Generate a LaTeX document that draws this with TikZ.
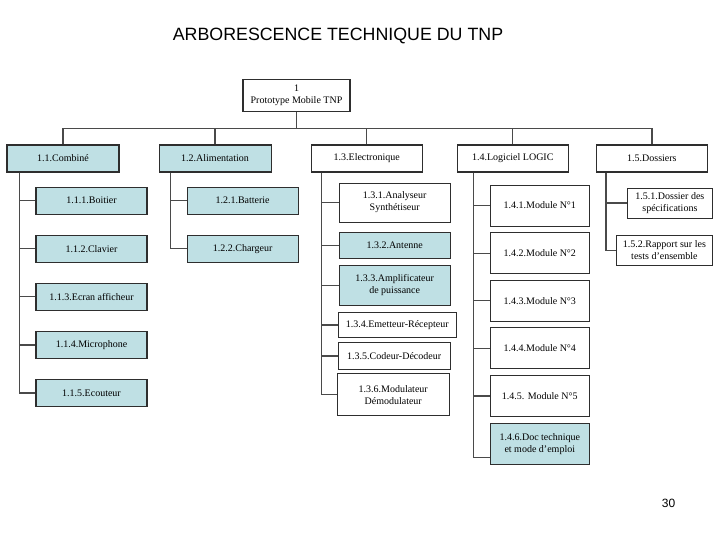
\documentclass[tikz,border=0pt]{standalone}
\usepackage{fontspec}
\setmainfont{Liberation Serif}
\newfontfamily\titlefont{Liberation Sans}
\usepackage{xcolor}
\usepackage{tikz}
\usetikzlibrary{positioning}
\definecolor{tnpblue}{HTML}{BFE0E4}
\definecolor{tnpedge}{HTML}{2E2E2E}
\definecolor{tnpline}{HTML}{4A4A4A}

\begin{document}
\begin{tikzpicture}[
    x=1pt, y=1pt,
    box/.style={rectangle, draw=tnpedge, line width=1.1pt, fill=#1, minimum width=111pt, minimum height=27pt, inner sep=2pt, align=center, font=\fontsize{10}{12}\selectfont},
    box/.default=white,
    link/.style={draw=tnpline, line width=1.3pt},
    heading/.style={font=\titlefont\fontsize{#1}{#1}\selectfont},
]
\useasboundingbox (0,0) rectangle (720,-540);

% --- Title and page number ---
\node[heading=17.8] (title) at (338,-36) {ARBORESCENCE TECHNIQUE DU TNP};
\node[heading=12] (page) at (668.5,-503) {30};

% --- Root ---
\node[box, minimum width=107pt, minimum height=32pt] (root) at (296.5,-95.5) {1\\Prototype Mobile TNP};

% --- First level ---
\node[box=tnpblue, minimum width=112pt] (c11) at (63,-158.5) {1.1.Combiné};
\node[box=tnpblue, minimum width=112pt, right=39pt of c11] (c12) {1.2.Alimentation};
\node[box, right=39pt of c12] (c13) {1.3.Electronique};
\node[box, right=34pt of c13] (c14) {1.4.Logiciel LOGIC};
\node[box, right=27pt of c14] (c15) {1.5.Dossiers};

% --- 1.1 Combine ---
\node[box=tnpblue, below=14pt of c11.south west, anchor=north west, xshift=29pt] (c111) {1.1.1.Boitier};
\node[box=tnpblue, below=20pt of c111] (c112) {1.1.2.Clavier};
\node[box=tnpblue, below=20pt of c112] (c113) {1.1.3.Ecran afficheur};
\node[box=tnpblue, below=20pt of c113] (c114) {1.1.4.Microphone};
\node[box=tnpblue, below=20pt of c114] (c115) {1.1.5.Ecouteur};

% --- 1.2 Alimentation ---
\node[box=tnpblue, below=14pt of c12.south west, anchor=north west, xshift=28pt] (c121) {1.2.1.Batterie};
\node[box=tnpblue, below=20pt of c121] (c122) {1.2.2.Chargeur};

% --- 1.3 Electronique ---
\node[box, minimum height=39pt, below=10pt of c13.south west, anchor=north west, xshift=28pt] (c131) {1.3.1.Analyseur\\Synthétiseur};
\node[box=tnpblue, minimum height=26pt, below=9pt of c131.south west, anchor=north west] (c132) {1.3.2.Antenne};
\node[box=tnpblue, minimum height=40pt, below=6pt of c132.south west, anchor=north west] (c133) {1.3.3.Amplificateur\\de puissance};
\node[box, minimum width=118pt, minimum height=25pt, below=6pt of c133.south west, anchor=north west, xshift=-1pt] (c134) {1.3.4.Emetteur-Récepteur};
\node[box, minimum width=112pt, below=4pt of c134.south west, anchor=north west] (c135) {1.3.5.Codeur-Décodeur};
\node[box, minimum width=112pt, minimum height=42pt, below=3pt of c135.south west, anchor=north west, xshift=-1pt] (c136) {1.3.6.Modulateur\\Démodulateur};

% --- 1.4 Logiciel ---
\node[box, minimum width=99pt, minimum height=41pt, below=12pt of c14.south west, anchor=north west, xshift=33pt] (c141) {1.4.1.Module N°1};
\node[box, minimum width=99pt, minimum height=41pt, below=5.5pt of c141] (c142) {1.4.2.Module N°2};
\node[box, minimum width=99pt, minimum height=41pt, below=5.5pt of c142] (c143) {1.4.3.Module N°3};
\node[box, minimum width=99pt, minimum height=41pt, below=5.5pt of c143] (c144) {1.4.4.Module N°4};
\node[box, minimum width=99pt, minimum height=41pt, below=5.5pt of c144] (c145) {1.4.5. Module N°5};
\node[box=tnpblue, minimum width=99pt, minimum height=41pt, below=5.5pt of c145] (c146) {1.4.6.Doc technique\\et mode d’emploi};

% --- 1.5 Dossiers ---
\node[box, minimum width=85pt, minimum height=30pt, below=15pt of c15.south east, anchor=north east, xshift=5pt] (c151) {1.5.1.Dossier des\\spécifications};
\node[box, minimum width=96pt, minimum height=30pt, below=16pt of c151.south east, anchor=north east] (c152) {1.5.2.Rapport sur les\\tests d'ensemble};

% --- Links: root to first level ---
\foreach \n in {c11,c12,c13,c14,c15}
  \draw[link] (root.south) -- ++(0,-16.5) -| (\n.north);

% --- Links: first level to children ---
\foreach \n in {c111,c112,c113,c114,c115}
  \draw[link] ([xshift=13pt]c11.south west) |- (\n.west);
\foreach \n in {c121,c122}
  \draw[link] ([xshift=12pt]c12.south west) |- (\n.west);
\foreach \n in {c131,c132,c133,c134,c135,c136}
  \draw[link] ([xshift=11pt]c13.south west) |- (\n.west);
\foreach \n in {c141,c142,c143,c144,c145}
  \draw[link] ([xshift=17pt]c14.south west) |- (\n.west);
\draw[link] ([xshift=17pt]c14.south west) |- ([yshift=-14pt]c146.west);
\foreach \n in {c151,c152}
  \draw[link] ([xshift=10pt]c15.south west) |- (\n.west);

\end{tikzpicture}
\end{document}
